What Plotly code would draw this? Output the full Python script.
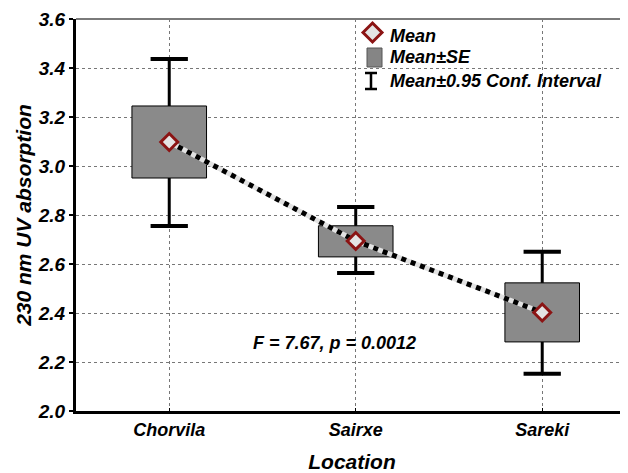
import plotly.graph_objects as go

categories = ["Chorvila", "Sairxe", "Sareki"]
mean_vals = [3.098, 2.694, 2.402]
se_low = [2.951, 2.629, 2.282]
se_high = [3.245, 2.756, 2.523]
ci_low = [2.755, 2.563, 2.152]
ci_high = [3.437, 2.833, 2.650]
y_ticks = [2.0, 2.2, 2.4, 2.6, 2.8, 3.0, 3.2, 3.4, 3.6]
legend_labels = ["Mean", "Mean±SE", "Mean±0.95 Conf. Interval"]
annotation_text = "F = 7.67, p = 0.0012"

FONT = "Liberation Sans, Arial, sans-serif"
OFF = 8  # default page body margin
W, H = 628 - OFF, 473 - OFF
ML, MR, MT, MB = 76 - OFF, 0, 19 - OFF, 62
PW, PH = W - ML - MR, H - MT - MB

def px(x):
    return (x - OFF - ML) / PW

def py(y):
    return 1 - (y - OFF - MT) / PH

idx = list(range(len(categories)))
box_w = 0.4
cap_half = 0.1

# whisker segments (outside the SE box) and caps
wx, wy = [], []
for i in idx:
    wx += [i, i, None, i, i, None]
    wy += [ci_low[i], se_low[i], None, se_high[i], ci_high[i], None]
cx, cy = [], []
for i in idx:
    cx += [i - cap_half, i + cap_half, None, i - cap_half, i + cap_half, None]
    cy += [ci_low[i], ci_low[i], None, ci_high[i], ci_high[i], None]

fig = go.Figure()

fig.add_trace(go.Scatter(x=wx, y=wy, mode="lines", line=dict(color="black", width=3),
                         showlegend=False, hoverinfo="skip"))
fig.add_trace(go.Scatter(x=cx, y=cy, mode="lines", line=dict(color="black", width=4),
                         showlegend=False, hoverinfo="skip"))
fig.add_trace(go.Scatter(x=idx, y=mean_vals, mode="lines", line=dict(color="#e2e2e2", width=5),
                         showlegend=False, hoverinfo="skip"))
fig.add_trace(go.Scatter(x=idx, y=mean_vals, mode="lines",
                         line=dict(color="black", width=5, dash="dot"),
                         showlegend=False, hoverinfo="skip"))
fig.add_trace(go.Scatter(x=idx, y=mean_vals, mode="markers", name=legend_labels[0],
                         showlegend=False,
                         marker=dict(symbol="diamond", size=13, color="#e4e4e4",
                                     line=dict(color="#8b1414", width=3))))
fig.add_trace(go.Bar(x=idx, y=[h - l for h, l in zip(se_high, se_low)], base=se_low,
                     width=box_w, name=legend_labels[1], showlegend=False,
                     marker=dict(color="#858585", line=dict(color="black", width=1),
                                 pattern=dict(shape=".", size=2, solidity=0.5,
                                              fgcolor="#333333", bgcolor="#a2a2a2"))))

fig.add_annotation(x=0.885, y=2.278, text=annotation_text, showarrow=False,
                   font=dict(family=FONT, size=18, color="black", weight="bold", style="italic"))

# top frame line
fig.add_shape(type="line", xref="paper", yref="paper", x0=0, x1=1, y0=1, y1=1,
              line=dict(color="#7a7a7a", width=2))

# manual legend (decoration, paper coordinates)
legfont = dict(family=FONT, size=18, color="black", weight="bold", style="italic")
text_y = [36, 57.5, 81]
for lab, ty in zip(legend_labels, text_y):
    fig.add_annotation(xref="paper", yref="paper", x=px(388), y=py(ty), text=lab,
                       showarrow=False, xanchor="left", yanchor="middle", font=legfont)
dcx, dcy, dr = 372.5, 32.5, 9.5
fig.add_shape(type="path", xref="paper", yref="paper",
              path=f"M {px(dcx - dr)} {py(dcy)} L {px(dcx)} {py(dcy - dr)} L {px(dcx + dr)} {py(dcy)} L {px(dcx)} {py(dcy + dr)} Z",
              fillcolor="#e4e4e4", line=dict(color="#8b1414", width=3))
fig.add_shape(type="rect", xref="paper", yref="paper",
              x0=px(367), x1=px(382), y0=py(48), y1=py(67),
              fillcolor="#858585", line=dict(color="#555555", width=1))
fig.add_shape(type="path", xref="paper", yref="paper",
              path=f"M {px(365)} {py(73)} L {px(377)} {py(73)} M {px(371)} {py(73)} L {px(371)} {py(89)} M {px(365)} {py(89)} L {px(377)} {py(89)}",
              line=dict(color="black", width=2.5))

fig.update_xaxes(range=[-0.5, 2.46], tickvals=idx, ticktext=categories,
                 tickfont=dict(family=FONT, size=18, color="black", weight="bold", style="italic"),
                 showline=True, linecolor="black", linewidth=3, automargin=False,
                 showgrid=True, gridcolor="#777777", gridwidth=1, griddash="3px,3px",
                 ticks="inside", ticklen=3, tickcolor="black", zeroline=False,
                 title=dict(text="Location", standoff=16,
                            font=dict(family=FONT, size=21, color="black", weight="bold", style="italic")))
fig.update_yaxes(range=[2.0, 3.6], tickvals=y_ticks, tickformat=".1f",
                 tickfont=dict(family=FONT, size=19, color="black", weight="bold", style="italic"),
                 showline=True, linecolor="black", linewidth=3, automargin=False,
                 showgrid=True, gridcolor="#777777", gridwidth=1, griddash="3px,3px",
                 ticks="outside", ticklen=4, tickwidth=2, tickcolor="black", zeroline=False,
                 title=dict(text="230 nm UV absorption", standoff=1,
                            font=dict(family=FONT, size=21, color="black", weight="bold", style="italic")))

fig.update_layout(
    width=W, height=H,
    margin=dict(l=ML, r=MR, t=MT, b=MB),
    plot_bgcolor="white", paper_bgcolor="white",
    barmode="overlay",
    showlegend=False,
)

fig.write_html("out.html")
